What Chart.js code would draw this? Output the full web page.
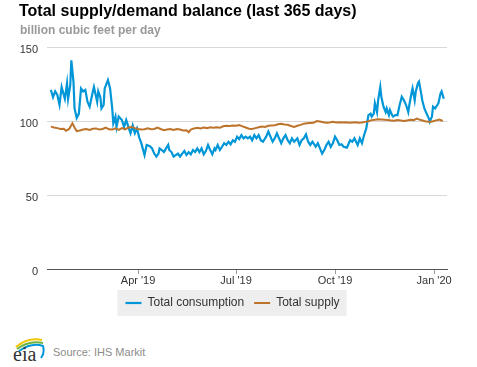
<!DOCTYPE html>
<html>
<head>
<meta charset="utf-8">
<script src="https://cdn.jsdelivr.net/npm/chart.js@4.4.1/dist/chart.umd.min.js"></script>
<style>
  body { margin: 0; background: #fff; font-family: "Liberation Sans", Arial, sans-serif; }
  #wrap { position: relative; width: 477px; height: 367px; overflow: hidden; }
  #title { position: absolute; left: 19px; top: 2px; font-size: 16px; font-weight: bold; color: #000; white-space: nowrap; }
  #subtitle { position: absolute; left: 20px; top: 23px; font-size: 12px; font-weight: bold; color: #999; white-space: nowrap; }
  #chartCanvas { position: absolute; left: 0; top: 0; }
  #logo { position: absolute; left: 12px; top: 334px; }
  #source { position: absolute; left: 53px; top: 346px; font-size: 11px; color: #8c8c8c; white-space: nowrap; }
</style>
</head>
<body>
<div id="wrap">
  <canvas id="chartCanvas" width="477" height="320"></canvas>
  <div id="title">Total supply/demand balance (last 365 days)</div>
  <div id="subtitle">billion cubic feet per day</div>
  <svg id="logo" width="34" height="30" viewBox="0 0 34 30">
    <path d="M4 13 Q16 3 30 6" stroke="#f2c500" stroke-width="2" fill="none"/>
    <path d="M5 15 Q17 6 31 9" stroke="#6cb33f" stroke-width="2" fill="none"/>
    <path d="M7 17 Q20 8 31 12 Q33 19 29 24" stroke="#0096d7" stroke-width="2" fill="none"/>
    <text x="1" y="27" font-family="'Liberation Serif', 'DejaVu Serif', serif" font-size="20" fill="#333">eia</text>
  </svg>
  <div id="source">Source: IHS Markit</div>
</div>
<script>
// days counted from Jan 1 2019
const tickDays = [90, 181, 273, 365];
const tickLabels = ["Apr '19", "Jul '19", "Oct '19", "Jan '20"];

const consumptionDays = [9, 11, 13, 15, 17, 19, 21, 22, 24, 25, 27, 28, 30, 31, 33, 35, 37, 39, 41, 43,
  45, 48, 49, 52, 53, 55, 56, 58, 59, 62, 64, 66, 67, 69, 70, 72, 75, 77, 79, 81,
  83, 85, 87, 89, 91, 93, 96, 98, 101, 103, 105, 107, 109, 110, 112, 114, 116, 118, 119, 121,
  123, 125, 127, 129, 131, 133, 135, 137, 139, 141, 143, 145, 147, 149, 151, 153, 155, 157, 159, 161,
  162, 164, 166, 168, 170, 172, 174, 176, 178, 180, 182, 184, 186, 188, 190, 192, 194, 196, 198, 200,
  202, 204, 206, 209, 211, 213, 215, 217, 219, 221, 223, 225, 227, 229, 231, 233, 235, 238, 240, 242,
  244, 246, 248, 250, 252, 254, 255, 257, 259, 261, 263, 265, 267, 269, 271, 273, 275, 277, 279, 281,
  284, 287, 289, 291, 294, 296, 298, 300, 302, 304, 306, 307, 309, 310, 312, 313, 315, 316, 318, 320,
  321, 323, 324, 326, 327, 329, 331, 333, 335, 337, 339, 341, 342, 344, 345, 347, 348, 350, 351, 353,
  354, 356, 358, 360, 361, 363, 364, 366, 368, 369, 371, 372, 374];
const consumptionValues = [121, 116, 120, 117.6, 111, 123, 117.6, 115, 125.5, 115, 124, 141, 126.5, 108.5, 102, 105, 122, 120, 121, 113,
  109.7, 120, 123, 113, 120, 116, 108.5, 110.8, 122, 127.7, 122, 108.5, 98.4, 103, 96, 103, 100.7, 96, 100.7, 96,
  91.7, 97, 91.7, 95, 89, 85, 77, 83.8, 83, 81.5, 78, 76, 78, 81.5, 80.4, 79, 81.5, 83.8, 80.4, 79,
  76, 77, 78, 76, 78, 79.7, 77, 79, 77.5, 80.4, 79, 81.5, 79, 81.5, 77.5, 79.7, 83.8, 80.4, 77.5, 81.5,
  80.4, 83.8, 80.4, 82.6, 85, 83.8, 86, 84.3, 87, 86, 89.4, 87.8, 90.5, 88.3, 89.4, 88.3, 89.4, 87, 90.5, 88.3,
  90.5, 87, 86, 89.4, 92.8, 89.4, 86, 88.3, 91.7, 88.3, 85, 88.3, 90.5, 87, 85, 88.3, 86, 88.3, 83.8, 87,
  88.3, 91, 86, 83.8, 86, 83.8, 82.6, 85, 81.5, 78, 80.4, 83.8, 86, 82.6, 85, 89.4, 87, 83.8, 84.3, 82.6,
  82, 87, 86, 88.3, 83.8, 88.3, 85, 90.5, 95, 104, 105, 103, 105, 112, 106, 114, 123, 116.4, 109.7, 106,
  108.5, 104, 107.4, 104, 103, 104, 104, 110.8, 116.4, 114, 110.8, 106, 110.8, 118.7, 122, 114, 120, 125.5, 126.6, 118.7,
  114, 108.5, 105, 102, 99.5, 103, 109.7, 108.5, 110.8, 112, 118.7, 120, 115];

const supplyDays = [9, 12, 15, 18, 21, 23, 26, 29, 31, 33, 36, 39, 42, 45, 48, 51, 54, 57, 60, 63,
  66, 69, 72, 75, 78, 81, 84, 87, 90, 93, 96, 99, 102, 105, 108, 111, 114, 117, 120, 123,
  126, 129, 132, 135, 137, 139, 142, 145, 148, 151, 154, 157, 160, 163, 166, 169, 172, 175, 178, 181,
  184, 187, 190, 193, 196, 199, 202, 205, 208, 211, 214, 217, 220, 223, 226, 229, 232, 235, 238, 241,
  244, 247, 250, 253, 256, 259, 262, 265, 268, 271, 274, 277, 280, 283, 286, 289, 292, 295, 298, 301,
  304, 307, 310, 313, 316, 319, 322, 325, 328, 331, 334, 337, 340, 343, 346, 349, 352, 355, 358, 361,
  364, 367, 370, 373];
const supplyValues = [96.2, 95.6, 95.2, 94.6, 94.8, 93.4, 94.6, 98.4, 95.6, 93.2, 93.6, 94.2, 94.6, 94.0, 94.8, 95.0, 94.2, 94.6, 95.6, 94.4,
  94.2, 95.0, 94.0, 95.2, 94.4, 95.6, 96.0, 95.2, 94.6, 94.2, 94.4, 95.0, 94.4, 94.6, 95.6, 94.6, 93.8, 94.2, 94.6, 94.0,
  94.6, 94.2, 93.6, 93.8, 92.4, 94.2, 95.0, 95.4, 95.0, 95.6, 95.2, 95.8, 95.4, 95.8, 95.4, 96.4, 96.8, 96.6, 97.0, 96.8,
  97.2, 96.4, 95.6, 94.8, 94.6, 95.2, 95.8, 96.2, 96.0, 96.8, 97.0, 97.2, 97.8, 98.2, 97.6, 97.4, 96.6, 96.0, 96.8, 97.4,
  98.2, 98.4, 98.6, 98.8, 100.0, 99.6, 99.2, 98.8, 99.0, 99.4, 99.0, 99.2, 99.0, 99.2, 98.8, 99.0, 99.2, 98.8, 99.0, 99.4,
  99.8, 100.6, 100.8, 101.2, 101.0, 100.8, 100.6, 100.4, 100.2, 100.6, 100.4, 100.0, 100.4, 100.8, 100.6, 101.6, 100.8, 100.2, 99.6, 99.4,
  99.8, 100.4, 101.0, 100.0];

const yTicks = [0, 50, 100, 150];

function toPoints(days, values) {
  return days.map((d, i) => ({ x: d, y: values[i] }));
}

Chart.defaults.font.family = "'Liberation Sans', Arial, sans-serif";
Chart.defaults.font.size = 11;
Chart.defaults.color = "#333";

const legendBackground = {
  id: "legendBackground",
  beforeDraw(chart) {
    const boxes = chart.legend.legendHitBoxes;
    if (!boxes || !boxes.length) return;
    let left = Math.min(...boxes.map(b => b.left)) - 8;
    let right = Math.max(...boxes.map(b => b.left + b.width)) + 7;
    let mid = boxes[0].top + boxes[0].height / 2;
    const ctx = chart.ctx;
    ctx.save();
    ctx.fillStyle = "#eeeeee";
    ctx.fillRect(left, mid - 13, right - left, 26);
    ctx.restore();
  }
};

const ctx = document.getElementById("chartCanvas");
new Chart(ctx, {
  type: "line",
  data: {
    datasets: [
      {
        label: "Total consumption",
        data: toPoints(consumptionDays, consumptionValues),
        borderColor: "#0096d7",
        backgroundColor: "#0096d7",
        borderWidth: 2.2,
        order: 1,
      },
      {
        label: "Total supply",
        data: toPoints(supplyDays, supplyValues),
        borderColor: "#bd732a",
        backgroundColor: "#bd732a",
        borderWidth: 2,
        order: 0,
      },
    ],
  },
  options: {
    responsive: false,
    animation: false,
    elements: { point: { radius: 0 }, line: { tension: 0 } },
    layout: { padding: { top: 47, left: 18, right: 30, bottom: 1 } },
    plugins: {
      tooltip: { enabled: false },
      legend: {
        position: "bottom",
        labels: {
          usePointStyle: true,
          pointStyle: "line",
          pointStyleWidth: 16,
          padding: 10,
          font: { size: 12 },
          color: "#333",
          sort: (a, b) => a.datasetIndex - b.datasetIndex,
        },
      },
    },
    scales: {
      x: {
        type: "linear",
        min: 5.4,
        max: 377,
        afterBuildTicks: (scale) => { scale.ticks = tickDays.map(v => ({ value: v })); },
        afterFit: (scale) => { scale.height = 18; },
        ticks: {
          autoSkip: false,
          maxRotation: 0,
          padding: 0,
          color: "#333",
          callback: (value) => tickLabels[tickDays.indexOf(value)],
        },
        grid: { drawOnChartArea: false, drawTicks: true, tickLength: 5, color: "#999" },
        border: { display: true, color: "#555", width: 1 },
      },
      y: {
        min: 0,
        max: 150,
        afterBuildTicks: (scale) => { scale.ticks = yTicks.map(v => ({ value: v })); },
        afterFit: (scale) => { scale.width = 29; },
        ticks: { padding: 9, labelOffset: 3, color: "#333" },
        grid: { color: "#d8d8d8", drawTicks: false },
        border: { display: false },
      },
    },
  },
  plugins: [legendBackground],
});
</script>
</body>
</html>
